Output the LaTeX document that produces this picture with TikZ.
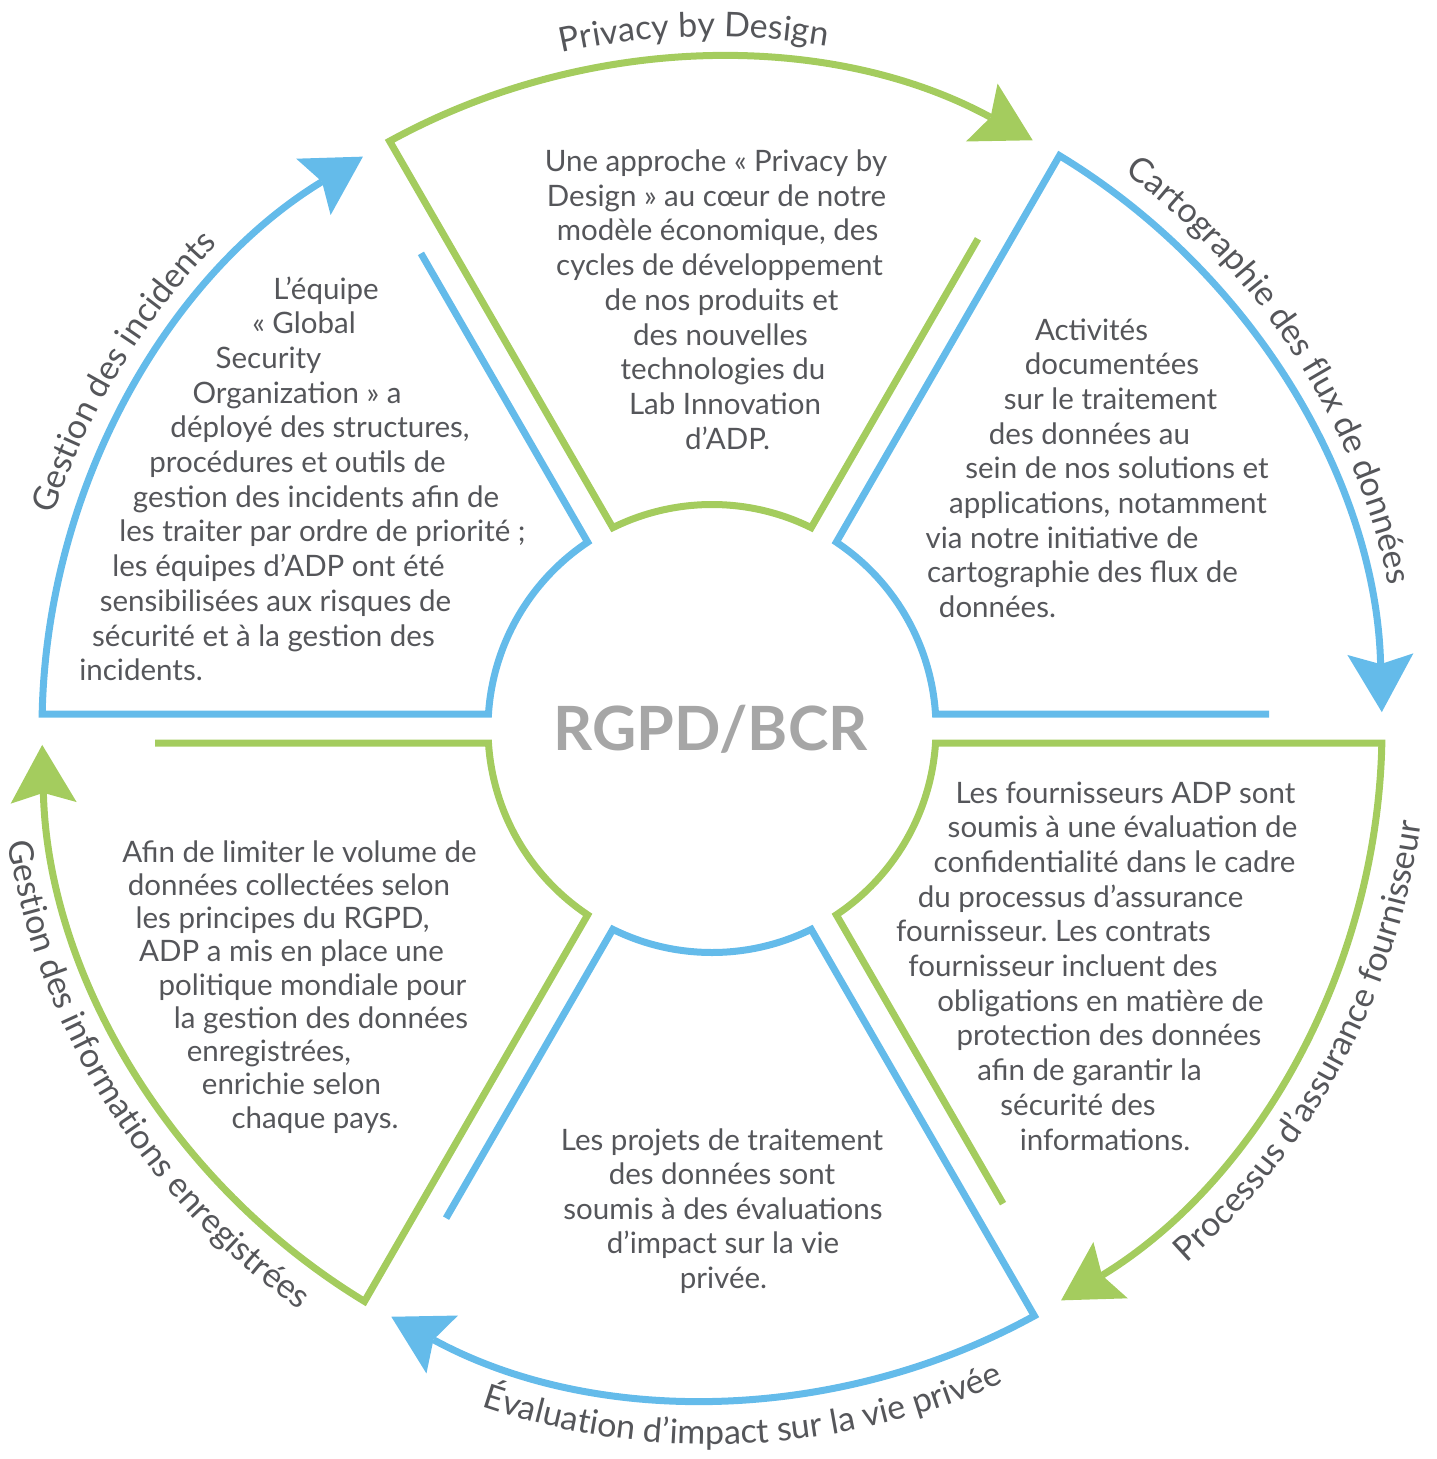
\documentclass[tikz,border=0pt]{standalone}
\usepackage{fontspec}
\setmainfont{Lato}
\frenchspacing
\usetikzlibrary{arrows.meta,calc,decorations.text}
\definecolor{wgreen}{HTML}{A4CC5E}
\definecolor{wblue}{HTML}{64BBEA}
\definecolor{wtext}{HTML}{55565A}
\definecolor{wcore}{HTML}{A6A6A6}
\newcommand{\wbodyfont}{\fontsize{29.5pt}{34.7pt}\selectfont}
\newcommand{\wlabfont}{\fontsize{34pt}{38pt}\selectfont}
\begin{document}
\begin{tikzpicture}[x=1pt,y=-1pt,
  wheelpart/.style={line width=7pt, line join=miter, line cap=butt},
  bodytext/.style={font=\wbodyfont, text=wtext, anchor=base, inner sep=0pt},
  coretext/.style={font=\fontsize{61pt}{66pt}\selectfont\bfseries, text=wcore, anchor=base, inner sep=0pt},
  outlabel/.style={decorate, decoration={text along path, text align=center, text color=wtext, text={|\wlabfont|#1}}},
]
\useasboundingbox (0,0) rectangle (1437,1459);
\begin{scope}[shift={(712,728.5)}, y=1pt]
  \foreach \ta/\tb/\col in {120/60/wgreen,60/0/wblue,0/-60/wgreen,-60/-120/wblue,-120/-180/wgreen,180/120/wblue}{
    \draw[wheelpart, draw=\col, -{Stealth[length=58pt, width=66pt, inset=10pt, line width=0pt]}]
      ($(\tb:557)+(\tb+90:14.5)$) -- ($(\tb:223.53)+(\tb+90:14.5)$)
      arc[start angle=\tb+3.71, end angle=\ta-3.71, radius=224]
      -- ($(\ta:669.84)+(\ta-90:14.5)$)
      arc[start angle=\ta-1.24, end angle=\tb+1.4, radius=670];
  }
  \path[outlabel={Privacy by Design}] (131.5:692) arc[start angle=131.5, end angle=51.5, radius=692];
  \path[outlabel={Cartographie des flux de données}] (72.7:692) arc[start angle=72.7, end angle=-7.3, radius=692];
  \path[outlabel={Gestion des incidents}] (188.8:692) arc[start angle=188.8, end angle=108.8, radius=692];
  \path[outlabel={Processus d’assurance fournisseur}] (-68:715) arc[start angle=-68, end angle=12, radius=715];
  \path[outlabel={Évaluation d’impact sur la vie privée}] (-127.4:716) arc[start angle=-127.4, end angle=-47.4, radius=716];
  \path[outlabel={Gestion des informations enregistrées}] (171.9:713) arc[start angle=171.9, end angle=251.9, radius=713];
\end{scope}

\node[coretext] (core) at (710.5,750) {RGPD/BCR};

\foreach \txt/\cx/\by [count=\i] in {
  {L’équipe}/326/299,
  {« Global}/304/333.7,
  {Security}/268.5/368.4,
  {Organization » a}/297/403.1,
  {déployé des structures,}/320/437.8,
  {procédures et outils de}/297.5/472.5,
  {gestion des incidents afin de}/316/507.2,
  {les traiter par ordre de priorité ;}/322.5/541.9,
  {les équipes d’ADP ont été}/278.5/576.6,
  {sensibilisées aux risques de}/275.5/611.3,
  {sécurité et à la gestion des}/263.5/646,
  {incidents.}/141/680.7}
  \node[bodytext] (ul\i) at (\cx,\by) {\txt};

\foreach \txt/\cx/\by [count=\i] in {
  {Une approche « Privacy by}/716/171.5,
  {Design » au cœur de notre}/716.5/206.2,
  {modèle économique, des}/717.5/240.9,
  {cycles de développement}/719.5/275.6,
  {de nos produits et}/721.5/310.3,
  {des nouvelles}/720.5/345,
  {technologies du}/723/379.7,
  {Lab Innovation}/725/414.4,
  {d’ADP.}/727.5/449.1}
  \node[bodytext] (tp\i) at (\cx,\by) {\txt};

\foreach \txt/\cx/\by [count=\i] in {
  {Activités}/1091.5/340,
  {documentées}/1112/374.7,
  {sur le traitement}/1110.5/409.4,
  {des données au}/1089.5/444.1,
  {sein de nos solutions et}/1117/478.8,
  {applications, notamment}/1108/513.5,
  {via notre initiative de}/1062/548.2,
  {cartographie des flux de}/1082.5/582.9,
  {données.}/997.5/617.6}
  \node[bodytext] (ur\i) at (\cx,\by) {\txt};

\foreach \txt/\cx/\by [count=\i] in {
  {Les fournisseurs ADP sont}/1125.5/803,
  {soumis à une évaluation de}/1122.5/837.7,
  {confidentialité dans le cadre}/1114.5/872.4,
  {du processus d’assurance}/1080.5/907.1,
  {fournisseur. Les contrats}/1053.5/941.8,
  {fournisseur incluent des}/1063/976.5,
  {obligations en matière de}/1100.5/1011.2,
  {protection des données}/1109/1045.9,
  {afin de garantir la}/1089.5/1080.6,
  {sécurité des}/1078/1115.3,
  {informations.}/1105/1150}
  \node[bodytext] (lr\i) at (\cx,\by) {\txt};

\foreach \txt/\cx/\by [count=\i] in {
  {Afin de limiter le volume de}/299.5/862,
  {données collectées selon}/289/895.25,
  {les principes du RGPD,}/282.5/928.5,
  {ADP a mis en place une}/291.5/961.75,
  {politique mondiale pour}/312.5/995,
  {la gestion des données}/321/1028.25,
  {enregistrées,}/269/1061.5,
  {enrichie selon}/291.5/1094.75,
  {chaque pays.}/315/1128}
  \node[bodytext] (ll\i) at (\cx,\by) {\txt};

\foreach \txt/\cx/\by [count=\i] in {
  {Les projets de traitement}/722/1150,
  {des données sont}/722/1184.5,
  {soumis à des évaluations}/723/1219,
  {d’impact sur la vie}/723/1253.5,
  {privée.}/723.5/1288}
  \node[bodytext] (bt\i) at (\cx,\by) {\txt};
\end{tikzpicture}
\end{document}
